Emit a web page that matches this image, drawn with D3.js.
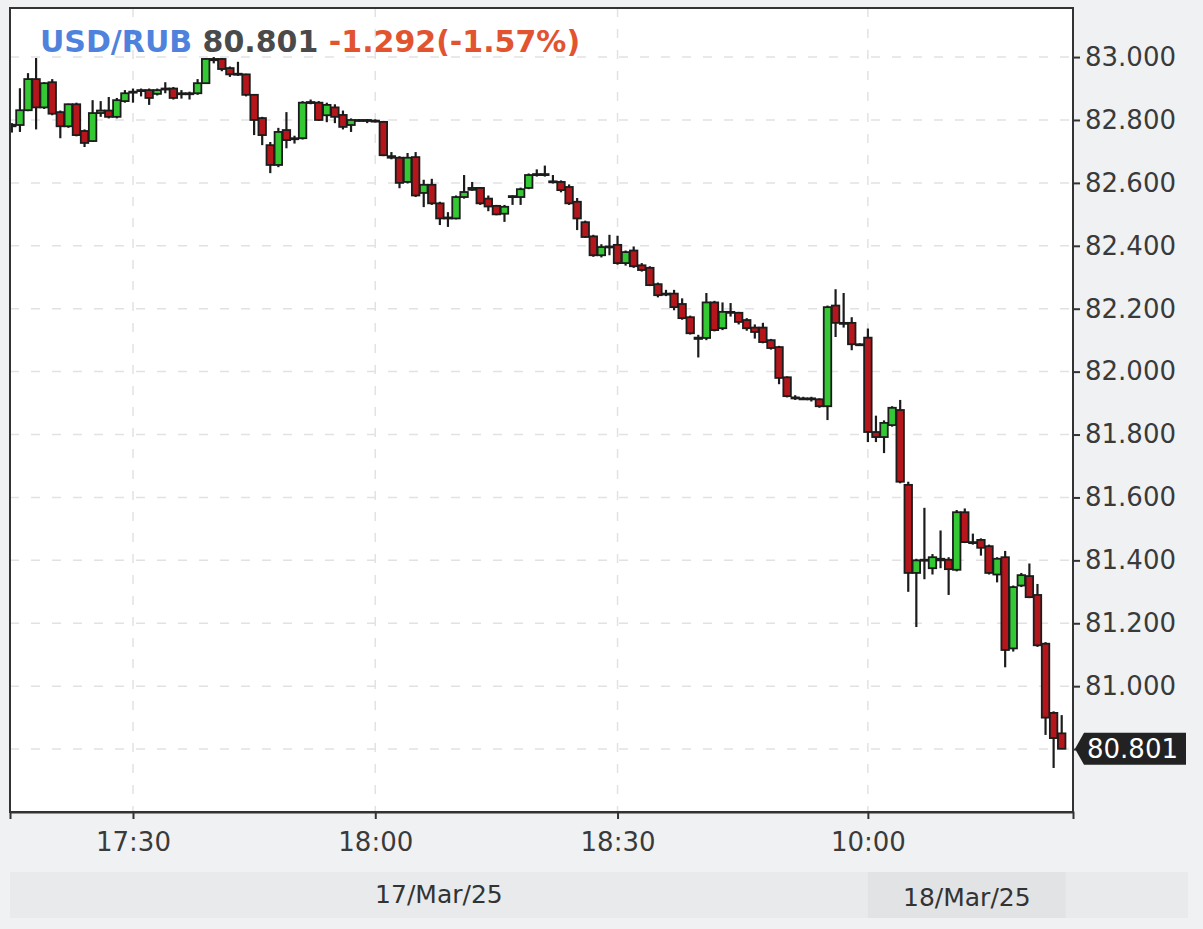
<!DOCTYPE html>
<html>
<head>
<meta charset="utf-8">
<script src="https://cdn.jsdelivr.net/npm/d3@7"></script>
<style>
  body { margin: 0; background: #eff1f3; }
  svg { display: block; }
  text { font-family: "DejaVu Sans", sans-serif; }
</style>
</head>
<body>
<div id="chart"></div>
<script>
// 1 minute candles, 17/Mar 17:15 -> 18/Mar 10:24 (night gap skipped)
const opens = [82.780, 82.784, 82.831, 82.930, 82.840, 82.920, 82.825, 82.780, 82.850, 82.765,
  82.733, 82.822, 82.830, 82.810, 82.860, 82.888, 82.893, 82.895, 82.883, 82.897,
  82.900, 82.882, 82.885, 82.885, 82.917, 82.994, 82.994, 82.965, 82.947, 82.945,
  82.880, 82.806, 82.720, 82.657, 82.768, 82.740, 82.742, 82.855, 82.855, 82.815,
  82.840, 82.816, 82.784, 82.800, 82.800, 82.798, 82.794, 82.685, 82.680, 82.603,
  82.682, 82.568, 82.594, 82.535, 82.487, 82.487, 82.555, 82.578, 82.584, 82.550,
  82.527, 82.502, 82.555, 82.555, 82.584, 82.625, 82.628, 82.605, 82.603, 82.587,
  82.540, 82.475, 82.430, 82.370, 82.396, 82.403, 82.345, 82.385, 82.338, 82.330,
  82.278, 82.248, 82.248, 82.215, 82.173, 82.104, 82.107, 82.220, 82.138, 82.190,
  82.187, 82.164, 82.140, 82.140, 82.100, 82.078, 81.982, 81.918, 81.915, 81.915,
  81.912, 81.890, 82.210, 82.155, 82.155, 82.087, 82.108, 81.808, 81.792, 81.830,
  81.878, 81.640, 81.360, 81.400, 81.375, 81.405, 81.402, 81.370, 81.553, 81.458,
  81.465, 81.445, 81.355, 81.410, 81.120, 81.320, 81.350, 81.290, 81.135, 80.915,
  80.850];
const highs = [82.790, 82.901, 82.949, 82.997, 82.920, 82.930, 82.830, 82.852, 82.855, 82.770,
  82.863, 82.860, 82.873, 82.870, 82.895, 82.900, 82.900, 82.900, 82.900, 82.920,
  82.905, 82.895, 82.890, 82.930, 82.997, 83.000, 82.997, 82.970, 82.985, 82.947,
  82.882, 82.810, 82.730, 82.775, 82.825, 82.750, 82.860, 82.865, 82.860, 82.855,
  82.850, 82.830, 82.805, 82.803, 82.803, 82.802, 82.797, 82.698, 82.685, 82.695,
  82.698, 82.610, 82.613, 82.540, 82.507, 82.560, 82.625, 82.603, 82.587, 82.560,
  82.530, 82.530, 82.560, 82.585, 82.630, 82.643, 82.655, 82.625, 82.608, 82.595,
  82.552, 82.480, 82.435, 82.405, 82.435, 82.432, 82.385, 82.398, 82.345, 82.335,
  82.283, 82.260, 82.260, 82.233, 82.178, 82.117, 82.250, 82.225, 82.220, 82.218,
  82.190, 82.170, 82.150, 82.155, 82.104, 82.082, 81.985, 81.925, 81.920, 81.920,
  81.915, 82.210, 82.262, 82.250, 82.173, 82.090, 82.137, 81.860, 81.845, 81.890,
  81.910, 81.650, 81.405, 81.567, 81.420, 81.495, 81.410, 81.560, 81.565, 81.485,
  81.470, 81.450, 81.410, 81.430, 81.320, 81.360, 81.390, 81.325, 81.140, 80.920,
  80.908];
const lows = [82.760, 82.762, 82.828, 82.770, 82.835, 82.815, 82.742, 82.775, 82.748, 82.714,
  82.730, 82.810, 82.805, 82.805, 82.855, 82.855, 82.875, 82.848, 82.878, 82.885,
  82.865, 82.868, 82.865, 82.880, 82.915, 82.980, 82.955, 82.937, 82.940, 82.875,
  82.752, 82.720, 82.631, 82.650, 82.710, 82.725, 82.738, 82.850, 82.797, 82.793,
  82.790, 82.770, 82.762, 82.795, 82.790, 82.792, 82.685, 82.675, 82.583, 82.598,
  82.555, 82.523, 82.530, 82.466, 82.460, 82.484, 82.550, 82.575, 82.530, 82.510,
  82.497, 82.476, 82.530, 82.530, 82.580, 82.620, 82.620, 82.598, 82.570, 82.530,
  82.450, 82.425, 82.365, 82.363, 82.370, 82.340, 82.337, 82.330, 82.318, 82.272,
  82.236, 82.240, 82.195, 82.165, 82.118, 82.045, 82.100, 82.128, 82.132, 82.175,
  82.150, 82.130, 82.105, 82.090, 82.070, 81.960, 81.918, 81.910, 81.910, 81.905,
  81.885, 81.846, 82.110, 82.140, 82.068, 82.082, 81.776, 81.776, 81.741, 81.825,
  81.645, 81.300, 81.188, 81.340, 81.355, 81.375, 81.290, 81.365, 81.455, 81.450,
  81.415, 81.355, 81.330, 81.060, 81.110, 81.315, 81.280, 81.125, 80.845, 80.740,
  80.800];
const closes = [82.785, 82.831, 82.930, 82.840, 82.917, 82.820, 82.780, 82.850, 82.752, 82.727,
  82.822, 82.830, 82.810, 82.863, 82.885, 82.890, 82.895, 82.870, 82.895, 82.900,
  82.870, 82.885, 82.885, 82.917, 82.994, 82.990, 82.962, 82.945, 82.945, 82.880,
  82.800, 82.752, 82.657, 82.762, 82.736, 82.742, 82.855, 82.857, 82.800, 82.848,
  82.810, 82.778, 82.800, 82.800, 82.798, 82.797, 82.688, 82.680, 82.600, 82.680,
  82.560, 82.594, 82.535, 82.487, 82.490, 82.555, 82.571, 82.584, 82.535, 82.525,
  82.500, 82.524, 82.558, 82.580, 82.625, 82.628, 82.627, 82.602, 82.577, 82.535,
  82.487, 82.428, 82.370, 82.396, 82.398, 82.345, 82.380, 82.335, 82.323, 82.275,
  82.243, 82.247, 82.205, 82.170, 82.122, 82.108, 82.220, 82.132, 82.190, 82.190,
  82.158, 82.138, 82.126, 82.094, 82.075, 81.980, 81.922, 81.915, 81.915, 81.912,
  81.890, 82.205, 82.155, 82.152, 82.087, 82.087, 81.808, 81.792, 81.837, 81.885,
  81.650, 81.360, 81.400, 81.402, 81.410, 81.400, 81.372, 81.553, 81.458, 81.458,
  81.440, 81.360, 81.405, 81.115, 81.315, 81.353, 81.283, 81.130, 80.900, 80.835,
  80.801];

const timeTickIdx = [15, 45, 75, 106];
const timeLabels = ["17:30", "18:00", "18:30", "10:00"];
const dayStartIdx = [0, 106];
const dayLabels = ["17/Mar/25", "18/Mar/25"];
const priceTicks = [80.8, 81.0, 81.2, 81.4, 81.6, 81.8, 82.0, 82.2, 82.4, 82.6, 82.8, 83.0];

const symbol = "USD/RUB";
const lastPrice = "80.801";
const change = "-1.292(-1.57%)";

const W = 1203, H = 929;
const plot = { left: 10, top: 8, right: 1073, bottom: 812 };

const candles = opens.map(function (o, i) {
  return { i: i, o: o, h: highs[i], l: lows[i], c: closes[i] };
});

const x = d3.scaleLinear().domain([-0.23, 131.4]).range([plot.left, plot.right]);
const y = d3.scaleLinear().domain([80.6, 83.156]).range([plot.bottom, plot.top]);

const svg = d3.select("#chart").append("svg")
  .attr("width", W).attr("height", H);

svg.append("rect").attr("width", W).attr("height", H).attr("fill", "#eff1f3");

// date band under the time axis
const bandTop = 872, bandH = 46;
svg.append("rect")
  .attr("x", plot.left).attr("y", bandTop)
  .attr("width", 1188 - plot.left).attr("height", bandH)
  .attr("fill", "#e8eaec");

const dayX0 = [plot.left, x(dayStartIdx[1])];
const dayX1 = [x(dayStartIdx[1]), x(candles.length - 0.5)];
svg.append("rect")
  .attr("x", dayX0[1]).attr("y", bandTop)
  .attr("width", dayX1[1] - dayX0[1]).attr("height", bandH)
  .attr("fill", "#e1e3e5");

svg.selectAll(".day")
  .data(dayLabels)
  .enter()
  .append("text")
  .attr("x", function (d, k) { return (dayX0[k] + dayX1[k]) / 2; })
  .attr("y", function (d, k) { return k === 0 ? 903 : 906; })
  .attr("text-anchor", "middle")
  .attr("font-size", 25)
  .attr("fill", "#333")
  .text(function (d) { return d; });

// plot background
svg.append("rect")
  .attr("x", plot.left).attr("y", plot.top)
  .attr("width", plot.right - plot.left).attr("height", plot.bottom - plot.top)
  .attr("fill", "#fff");

// dashed grid
const grid = svg.append("g")
  .attr("stroke", "#e2e2e2").attr("stroke-width", 1.5)
  .attr("stroke-dasharray", "9,12");
grid.selectAll(".hg").data(priceTicks).enter().append("line")
  .attr("x1", plot.left).attr("x2", plot.right)
  .attr("y1", function (d) { return y(d); }).attr("y2", function (d) { return y(d); });
grid.selectAll(".vg").data(timeTickIdx).enter().append("line")
  .attr("y1", plot.top).attr("y2", plot.bottom)
  .attr("x1", function (d) { return x(d); }).attr("x2", function (d) { return x(d); });

// candles
svg.append("clipPath").attr("id", "clip")
  .append("rect")
  .attr("x", plot.left).attr("y", plot.top)
  .attr("width", plot.right - plot.left).attr("height", plot.bottom - plot.top);

const cg = svg.append("g").attr("clip-path", "url(#clip)");
const bodyW = 7.5;

cg.selectAll(".wick")
  .data(candles)
  .enter()
  .append("line")
  .attr("x1", function (d) { return x(d.i); })
  .attr("x2", function (d) { return x(d.i); })
  .attr("y1", function (d) { return y(d.h); })
  .attr("y2", function (d) { return y(d.l); })
  .attr("stroke", "#1c1c1c")
  .attr("stroke-width", 2.2);

cg.selectAll(".body")
  .data(candles)
  .enter()
  .append("rect")
  .attr("x", function (d) { return x(d.i) - bodyW / 2; })
  .attr("width", bodyW)
  .attr("y", function (d) { return y(Math.max(d.o, d.c)); })
  .attr("height", function (d) { return Math.max(1, Math.abs(y(d.o) - y(d.c))); })
  .attr("fill", function (d) { return d.c >= d.o ? "#34c934" : "#b5161b"; })
  .attr("stroke", "#1c1c1c")
  .attr("stroke-width", 1.8);

// frame
svg.append("rect")
  .attr("x", plot.left).attr("y", plot.top)
  .attr("width", plot.right - plot.left).attr("height", plot.bottom - plot.top)
  .attr("fill", "none").attr("stroke", "#333").attr("stroke-width", 2);

// price axis (right)
const yAxis = d3.axisRight(y)
  .tickValues(priceTicks)
  .tickFormat(d3.format(".3f"))
  .tickSize(7).tickSizeOuter(0).tickPadding(5);
const ya = svg.append("g")
  .attr("transform", "translate(" + plot.right + ",0)")
  .call(yAxis);
ya.select(".domain").remove();
ya.selectAll("line").attr("stroke", "#333").attr("stroke-width", 2);
ya.selectAll("text").attr("font-family", "DejaVu Sans").attr("font-size", 26).attr("fill", "#3a3a3a");

// time axis (bottom)
const xAxis = d3.axisBottom(x)
  .tickValues(timeTickIdx)
  .tickFormat(function (d, k) { return timeLabels[k]; })
  .tickSize(7).tickSizeOuter(7);
const xa = svg.append("g")
  .attr("transform", "translate(0," + plot.bottom + ")")
  .call(xAxis);
xa.select(".domain").attr("stroke", "#333").attr("stroke-width", 2);
xa.selectAll("line").attr("stroke", "#333").attr("stroke-width", 2);
xa.selectAll("text").attr("y", 21).attr("font-family", "DejaVu Sans").attr("font-size", 26).attr("fill", "#3a3a3a");

// last price tag
const ly = y(+lastPrice);
const tag = svg.append("g");
tag.append("path")
  .attr("d", "M" + (plot.right + 2) + "," + ly +
    " L" + (plot.right + 11) + "," + (ly - 16) +
    " H1186 V" + (ly + 16) + " H" + (plot.right + 11) + " Z")
  .attr("fill", "#222");
tag.append("text")
  .attr("x", plot.right + 14).attr("y", ly).attr("dy", "0.36em")
  .attr("font-size", 26).attr("fill", "#fff")
  .text(lastPrice);

// title
const title = svg.append("text")
  .attr("x", 40).attr("y", 52)
  .attr("font-size", 30).attr("font-weight", "bold");
title.append("tspan").attr("fill", "#4f82dc").text(symbol);
title.append("tspan").attr("fill", "#4a4a4a").text(" " + lastPrice);
title.append("tspan").attr("fill", "#e2532f").text(" " + change);
</script>
</body>
</html>
